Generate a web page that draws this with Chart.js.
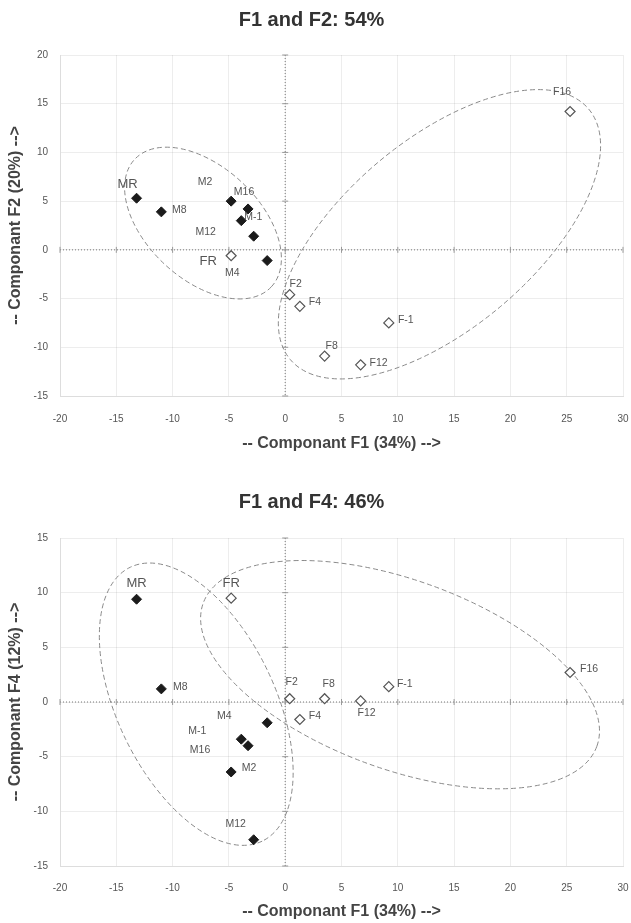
<!DOCTYPE html>
<html>
<head>
<meta charset="utf-8">
<script src="https://cdn.jsdelivr.net/npm/chart.js@4.4.0/dist/chart.umd.min.js"></script>
<style>
  html, body { margin: 0; padding: 0; background: #fff; }
  .box { position: relative; width: 631px; }
  #boxF2 { height: 460px; }
  #boxF4 { height: 463px; }
</style>
</head>
<body>
<div class="box" id="boxF2"><canvas id="chartF2"></canvas></div>
<div class="box" id="boxF4"><canvas id="chartF4"></canvas></div>
<script>
// samples (filled = M group, open = F group)
const mSamples = ['MR', 'M-1', 'M2', 'M4', 'M8', 'M12', 'M16'];
const fSamples = ['FR', 'F-1', 'F2', 'F4', 'F8', 'F12', 'F16'];

// component scores
const f1M = [-13.2, -3.9, -4.8, -1.6, -11.0, -2.8, -3.3];
const f2M = [5.3, 3.0, 5.0, -1.1, 3.9, 1.4, 4.2];
const f4M = [9.4, -3.4, -6.4, -1.9, 1.2, -12.6, -4.0];

const f1F = [-4.8, 9.2, 0.4, 1.3, 3.5, 6.7, 25.3];
const f2F = [-0.6, -7.5, -4.6, -5.8, -10.9, -11.8, 14.2];
const f4F = [9.5, 1.4, 0.3, -1.6, 0.3, 0.1, 2.7];

// axis ranges
const xRange = [-20, 30];
const yRangeF2 = [-15, 20];
const yRangeF4 = [-15, 15];
const tickStep = 5;

// label placement (pixel offsets from the point)
const labelOffsetsF2 = {
    'MR': [-9, -14], 'M-1': [12, -4], 'M2': [-26, -19], 'M4': [-35, 13],
    'M8': [18, -2], 'M12': [-48, -4], 'M16': [-4, -17], 'FR': [-23, 6],
    'F-1': [17, -3], 'F2': [6, -11], 'F4': [15, -4], 'F8': [7, -10],
    'F12': [18, -2], 'F16': [-8, -19]
};
const labelOffsetsF4 = {
    'MR': [0, -16], 'M-1': [-44, -8], 'M2': [18, -4], 'M4': [-43, -7],
    'M8': [19, -2], 'M12': [-18, -16], 'M16': [-48, 4], 'FR': [0, -15],
    'F-1': [16, -3], 'F2': [2, -17], 'F4': [15, -3], 'F8': [4, -15],
    'F12': [6, 12], 'F16': [19, -3]
};
const bigLabels = ['MR', 'FR'];

// group ellipses: centre in data units, half axes in x-units, angle in degrees
const ellipsesF2 = [
    { cx: -7.3, cy: 2.75, a: 8.3, b: 5.0, angle: 43 },
    { cx: 13.7, cy: 1.6, a: 17.3, b: 8.4, angle: -40 }
];
const ellipsesF4 = [
    { cx: -7.9, cy: -0.2, a: 13.5, b: 7.0, angle: 64.3 },
    { cx: 10.2, cy: 2.5, a: 18.6, b: 8.4, angle: 20 }
];

const FONT = "'Liberation Sans', Arial, sans-serif";

function toPoints(xs, ys) {
    return xs.map(function(x, i) { return { x: x, y: ys[i] }; });
}

const pcaPlugin = {
    id: 'pcaDecor',
    beforeDatasetsDraw: function(chart, args, opts) {
        const ctx = chart.ctx;
        const xs = chart.scales.x, ys = chart.scales.y;
        const area = chart.chartArea;
        const x0 = xs.getPixelForValue(0), y0 = ys.getPixelForValue(0);
        ctx.save();
        // dotted zero axes
        ctx.strokeStyle = '#777';
        ctx.lineWidth = 1;
        ctx.setLineDash([1, 2]);
        ctx.beginPath();
        ctx.moveTo(area.left, y0); ctx.lineTo(area.right, y0);
        ctx.moveTo(x0, area.top); ctx.lineTo(x0, area.bottom);
        ctx.stroke();
        ctx.setLineDash([]);
        ctx.strokeStyle = '#999';
        ctx.beginPath();
        for (let v = xs.min; v <= xs.max; v += tickStep) {
            const px = xs.getPixelForValue(v);
            ctx.moveTo(px, y0 - 3); ctx.lineTo(px, y0 + 3);
        }
        for (let v = ys.min; v <= ys.max; v += tickStep) {
            const py = ys.getPixelForValue(v);
            ctx.moveTo(x0 - 3, py); ctx.lineTo(x0 + 3, py);
        }
        ctx.stroke();
        // ellipses
        const k = xs.getPixelForValue(1) - xs.getPixelForValue(0);
        ctx.strokeStyle = '#8a8a8a';
        ctx.setLineDash([5, 3]);
        opts.ellipses.forEach(function(e) {
            ctx.beginPath();
            ctx.ellipse(xs.getPixelForValue(e.cx), ys.getPixelForValue(e.cy),
                e.a * k, e.b * k, e.angle * Math.PI / 180, 0, Math.PI * 2);
            ctx.stroke();
        });
        ctx.restore();
    },
    afterDatasetsDraw: function(chart, args, opts) {
        const ctx = chart.ctx;
        ctx.save();
        ctx.fillStyle = '#555';
        ctx.textAlign = 'center';
        ctx.textBaseline = 'middle';
        chart.data.datasets.forEach(function(ds, di) {
            const meta = chart.getDatasetMeta(di);
            ds.names.forEach(function(name, i) {
                const p = meta.data[i];
                const off = opts.offsets[name] || [12, 0];
                const big = bigLabels.indexOf(name) >= 0;
                ctx.font = (big ? '13px ' : '10.5px ') + FONT;
                ctx.fillText(name, p.x + off[0], p.y + off[1]);
            });
        });
        ctx.restore();
    }
};

function makeChart(id, yVals, yRange, yTitle, title, layout, offsets, ellipses) {
    new Chart(document.getElementById(id), {
        type: 'scatter',
        data: {
            datasets: [{
                label: 'M',
                names: mSamples,
                data: toPoints(f1M, yVals.m),
                pointStyle: 'rectRot',
                pointRadius: 5,
                pointBackgroundColor: '#1b1b1b',
                pointBorderColor: '#1b1b1b',
                pointBorderWidth: 1
            }, {
                label: 'F',
                names: fSamples,
                data: toPoints(f1F, yVals.f),
                pointStyle: 'rectRot',
                pointRadius: 5,
                pointBackgroundColor: '#fff',
                pointBorderColor: '#555',
                pointBorderWidth: 1.2
            }]
        },
        options: {
            responsive: true,
            maintainAspectRatio: false,
            animation: false,
            layout: { padding: { left: 0, right: 8, top: 0, bottom: 0 } },
            plugins: {
                legend: { display: false },
                tooltip: { enabled: false },
                title: {
                    display: true,
                    text: title,
                    color: '#333',
                    font: { family: FONT, size: 20, weight: 'bold' },
                    padding: { top: layout.titleTop, bottom: layout.titleBottom }
                },
                pcaDecor: { offsets: offsets, ellipses: ellipses }
            },
            scales: {
                x: {
                    type: 'linear',
                    min: xRange[0],
                    max: xRange[1],
                    afterFit: function(s) {
                        s.height = layout.xHeight;
                        s.paddingLeft = 0;
                        s.paddingRight = 0;
                    },
                    ticks: { stepSize: tickStep, padding: layout.xPad, color: '#555',
                             font: { family: FONT, size: 10 } },
                    grid: { color: 'rgba(0,0,0,0.07)', drawTicks: false },
                    border: { color: '#ddd' },
                    title: {
                        display: true,
                        text: '-- Componant F1 (34%) -->',
                        color: '#444',
                        font: { family: FONT, size: 16, weight: 'bold' },
                        padding: { bottom: layout.xTitlePad }
                    }
                },
                y: {
                    min: yRange[0],
                    max: yRange[1],
                    afterFit: function(s) { s.width = 60; },
                    ticks: { stepSize: tickStep, padding: 12, color: '#555',
                             font: { family: FONT, size: 10 } },
                    grid: { color: 'rgba(0,0,0,0.07)', drawTicks: false },
                    border: { color: '#ddd' },
                    title: {
                        display: true,
                        text: yTitle,
                        color: '#444',
                        font: { family: FONT, size: 16, weight: 'bold' },
                        padding: { top: 6 }
                    }
                }
            }
        },
        plugins: [pcaPlugin]
    });
}

makeChart('chartF2', { m: f2M, f: f2F }, yRangeF2, '-- Componant F2 (20%) -->', 'F1 and F2: 54%',
    { titleTop: 8, titleBottom: 23, xHeight: 64, xPad: 17, xTitlePad: 7 },
    labelOffsetsF2, ellipsesF2);

makeChart('chartF4', { m: f4M, f: f4F }, yRangeF4, '-- Componant F4 (12%) -->', 'F1 and F4: 46%',
    { titleTop: 30, titleBottom: 24, xHeight: 57, xPad: 16, xTitlePad: 2 },
    labelOffsetsF4, ellipsesF4);
</script>
</body>
</html>
